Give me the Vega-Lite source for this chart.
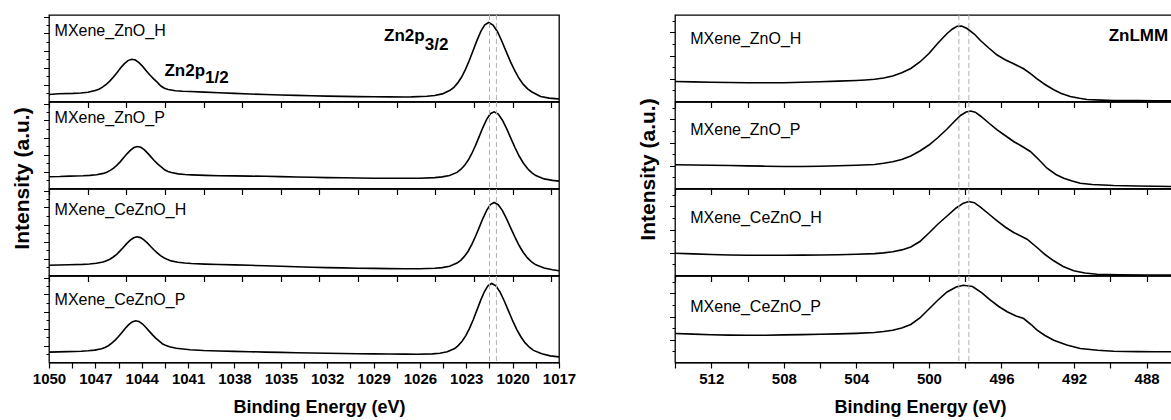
{
"$schema": "https://vega.github.io/schema/vega-lite/v6.json",
"padding": {"left": 10, "top": 13, "right": 0, "bottom": 2},
"background": "white",
"spacing": 59,
"config": {
  "view": {"stroke": "#000", "strokeWidth": 1.3},
  "font": "Liberation Sans",
  "axis": {"domain": false, "grid": false, "ticks": true, "tickCount": 100, "tickColor": "#000", "tickWidth": 1, "labelColor": "#000", "titleColor": "#000"}
},
"datasets": {
"refs": [{"r":"2p","e":1021.5},{"r":"2p","e":1021.05}],
"refs2": [{"k":498.35},{"k":497.8}],
"zn2p": [
{"s":"ZnO_H","e":1050,"y":7.0},{"s":"ZnO_H","e":1049.37,"y":7.7},{"s":"ZnO_H","e":1048.43,"y":8.1},{"s":"ZnO_H","e":1047.95,"y":8.5},{"s":"ZnO_H","e":1047.48,"y":9.3},{"s":"ZnO_H","e":1047.01,"y":11.0},{"s":"ZnO_H","e":1046.77,"y":12.3},{"s":"ZnO_H","e":1046.54,"y":14.4},{"s":"ZnO_H","e":1046.3,"y":17.0},{"s":"ZnO_H","e":1046.07,"y":20.4},{"s":"ZnO_H","e":1045.83,"y":24.5},{"s":"ZnO_H","e":1045.59,"y":29.0},{"s":"ZnO_H","e":1045.36,"y":33.7},{"s":"ZnO_H","e":1045.12,"y":37.9},{"s":"ZnO_H","e":1044.89,"y":40.9},{"s":"ZnO_H","e":1044.65,"y":42.2},{"s":"ZnO_H","e":1044.41,"y":41.5},{"s":"ZnO_H","e":1044.18,"y":38.9},{"s":"ZnO_H","e":1043.94,"y":35.1},{"s":"ZnO_H","e":1043.71,"y":30.8},{"s":"ZnO_H","e":1043.47,"y":26.5},{"s":"ZnO_H","e":1043.23,"y":22.6},{"s":"ZnO_H","e":1043.0,"y":19.4},{"s":"ZnO_H","e":1042.76,"y":15.5},{"s":"ZnO_H","e":1042.53,"y":13.3},{"s":"ZnO_H","e":1042.29,"y":12.0},{"s":"ZnO_H","e":1041.82,"y":10.8},{"s":"ZnO_H","e":1041.35,"y":10.3},{"s":"ZnO_H","e":1040.87,"y":10.0},{"s":"ZnO_H","e":1039.93,"y":9.4},{"s":"ZnO_H","e":1039,"y":8.8},{"s":"ZnO_H","e":1038,"y":8.1},{"s":"ZnO_H","e":1037,"y":7.5},{"s":"ZnO_H","e":1036,"y":7.0},{"s":"ZnO_H","e":1035,"y":6.5},{"s":"ZnO_H","e":1034,"y":6.1},{"s":"ZnO_H","e":1033,"y":5.7},{"s":"ZnO_H","e":1032,"y":5.4},{"s":"ZnO_H","e":1031,"y":5.1},{"s":"ZnO_H","e":1030,"y":4.9},{"s":"ZnO_H","e":1029,"y":4.7},{"s":"ZnO_H","e":1028,"y":4.6},{"s":"ZnO_H","e":1027,"y":4.5},{"s":"ZnO_H","e":1026.55,"y":4.6},{"s":"ZnO_H","e":1025.55,"y":5.3},{"s":"ZnO_H","e":1025.05,"y":6.0},{"s":"ZnO_H","e":1024.55,"y":7.6},{"s":"ZnO_H","e":1024.05,"y":11.2},{"s":"ZnO_H","e":1023.8,"y":14.2},{"s":"ZnO_H","e":1023.55,"y":18.6},{"s":"ZnO_H","e":1023.3,"y":24.5},{"s":"ZnO_H","e":1023.05,"y":32.2},{"s":"ZnO_H","e":1022.8,"y":41.2},{"s":"ZnO_H","e":1022.55,"y":51.2},{"s":"ZnO_H","e":1022.3,"y":61.4},{"s":"ZnO_H","e":1022.05,"y":70.4},{"s":"ZnO_H","e":1021.8,"y":76.7},{"s":"ZnO_H","e":1021.55,"y":79.0},{"s":"ZnO_H","e":1021.27,"y":76.5},{"s":"ZnO_H","e":1020.99,"y":70.0},{"s":"ZnO_H","e":1020.71,"y":60.8},{"s":"ZnO_H","e":1020.43,"y":50.4},{"s":"ZnO_H","e":1020.15,"y":40.2},{"s":"ZnO_H","e":1019.87,"y":31.0},{"s":"ZnO_H","e":1019.59,"y":23.2},{"s":"ZnO_H","e":1019.31,"y":17.1},{"s":"ZnO_H","e":1019.03,"y":12.6},{"s":"ZnO_H","e":1018.75,"y":9.5},{"s":"ZnO_H","e":1018.19,"y":5.0},{"s":"ZnO_H","e":1017.63,"y":3.4},{"s":"ZnO_H","e":1017.07,"y":2.6},{"s":"ZnO_H","e":1017,"y":2.5},
{"s":"ZnO_P","e":1050,"y":11.8},{"s":"ZnO_P","e":1049.3,"y":12.0},{"s":"ZnO_P","e":1048.68,"y":12.4},{"s":"ZnO_P","e":1047.8,"y":12.7},{"s":"ZnO_P","e":1047.36,"y":13.1},{"s":"ZnO_P","e":1046.92,"y":13.7},{"s":"ZnO_P","e":1046.48,"y":15.1},{"s":"ZnO_P","e":1046.26,"y":16.3},{"s":"ZnO_P","e":1046.04,"y":18.1},{"s":"ZnO_P","e":1045.82,"y":20.4},{"s":"ZnO_P","e":1045.6,"y":23.4},{"s":"ZnO_P","e":1045.38,"y":26.9},{"s":"ZnO_P","e":1045.16,"y":30.9},{"s":"ZnO_P","e":1044.94,"y":34.9},{"s":"ZnO_P","e":1044.72,"y":38.4},{"s":"ZnO_P","e":1044.5,"y":41.0},{"s":"ZnO_P","e":1044.28,"y":42.0},{"s":"ZnO_P","e":1044.06,"y":41.2},{"s":"ZnO_P","e":1043.84,"y":38.8},{"s":"ZnO_P","e":1043.62,"y":35.4},{"s":"ZnO_P","e":1043.4,"y":31.6},{"s":"ZnO_P","e":1043.18,"y":27.8},{"s":"ZnO_P","e":1042.96,"y":24.4},{"s":"ZnO_P","e":1042.74,"y":21.6},{"s":"ZnO_P","e":1042.52,"y":18.7},{"s":"ZnO_P","e":1042.3,"y":17.1},{"s":"ZnO_P","e":1042.08,"y":15.9},{"s":"ZnO_P","e":1041.64,"y":14.6},{"s":"ZnO_P","e":1041.2,"y":14.0},{"s":"ZnO_P","e":1040.76,"y":13.6},{"s":"ZnO_P","e":1039.88,"y":13.1},{"s":"ZnO_P","e":1039,"y":12.8},{"s":"ZnO_P","e":1038,"y":12.6},{"s":"ZnO_P","e":1037,"y":12.4},{"s":"ZnO_P","e":1036,"y":12.2},{"s":"ZnO_P","e":1035,"y":11.9},{"s":"ZnO_P","e":1034,"y":11.5},{"s":"ZnO_P","e":1033,"y":11.2},{"s":"ZnO_P","e":1032,"y":10.9},{"s":"ZnO_P","e":1031,"y":10.7},{"s":"ZnO_P","e":1030,"y":10.5},{"s":"ZnO_P","e":1029,"y":10.3},{"s":"ZnO_P","e":1028,"y":10.2},{"s":"ZnO_P","e":1027,"y":10.2},{"s":"ZnO_P","e":1026.0,"y":10.3},{"s":"ZnO_P","e":1025.04,"y":10.9},{"s":"ZnO_P","e":1024.56,"y":11.6},{"s":"ZnO_P","e":1024.08,"y":13.0},{"s":"ZnO_P","e":1023.6,"y":16.1},{"s":"ZnO_P","e":1023.36,"y":19.0},{"s":"ZnO_P","e":1023.12,"y":22.9},{"s":"ZnO_P","e":1022.88,"y":28.2},{"s":"ZnO_P","e":1022.64,"y":35.0},{"s":"ZnO_P","e":1022.4,"y":43.1},{"s":"ZnO_P","e":1022.16,"y":52.1},{"s":"ZnO_P","e":1021.92,"y":61.2},{"s":"ZnO_P","e":1021.68,"y":69.2},{"s":"ZnO_P","e":1021.44,"y":74.8},{"s":"ZnO_P","e":1021.2,"y":76.7},{"s":"ZnO_P","e":1020.93,"y":74.4},{"s":"ZnO_P","e":1020.66,"y":68.3},{"s":"ZnO_P","e":1020.39,"y":59.9},{"s":"ZnO_P","e":1020.12,"y":50.4},{"s":"ZnO_P","e":1019.85,"y":41.0},{"s":"ZnO_P","e":1019.58,"y":32.5},{"s":"ZnO_P","e":1019.31,"y":25.5},{"s":"ZnO_P","e":1019.04,"y":20.0},{"s":"ZnO_P","e":1018.77,"y":15.9},{"s":"ZnO_P","e":1018.5,"y":12.9},{"s":"ZnO_P","e":1017.96,"y":9.6},{"s":"ZnO_P","e":1017.42,"y":8.1},{"s":"ZnO_P","e":1017.0,"y":7.4},
{"s":"CeZnO_H","e":1050,"y":10.2},{"s":"CeZnO_H","e":1049.4,"y":10.5},{"s":"CeZnO_H","e":1048.7,"y":10.8},{"s":"CeZnO_H","e":1047.82,"y":11.1},{"s":"CeZnO_H","e":1047.38,"y":11.5},{"s":"CeZnO_H","e":1046.94,"y":12.2},{"s":"CeZnO_H","e":1046.5,"y":13.4},{"s":"CeZnO_H","e":1046.28,"y":14.7},{"s":"CeZnO_H","e":1046.06,"y":16.3},{"s":"CeZnO_H","e":1045.84,"y":18.5},{"s":"CeZnO_H","e":1045.62,"y":21.2},{"s":"CeZnO_H","e":1045.4,"y":24.6},{"s":"CeZnO_H","e":1045.18,"y":28.3},{"s":"CeZnO_H","e":1044.96,"y":32.1},{"s":"CeZnO_H","e":1044.74,"y":35.3},{"s":"CeZnO_H","e":1044.52,"y":37.7},{"s":"CeZnO_H","e":1044.3,"y":38.7},{"s":"CeZnO_H","e":1044.08,"y":37.9},{"s":"CeZnO_H","e":1043.86,"y":35.7},{"s":"CeZnO_H","e":1043.64,"y":32.6},{"s":"CeZnO_H","e":1043.42,"y":29.0},{"s":"CeZnO_H","e":1043.2,"y":25.5},{"s":"CeZnO_H","e":1042.98,"y":22.3},{"s":"CeZnO_H","e":1042.76,"y":19.7},{"s":"CeZnO_H","e":1042.54,"y":17.5},{"s":"CeZnO_H","e":1042.32,"y":15.9},{"s":"CeZnO_H","e":1042.1,"y":14.6},{"s":"CeZnO_H","e":1041.66,"y":13.2},{"s":"CeZnO_H","e":1041.22,"y":12.5},{"s":"CeZnO_H","e":1040.78,"y":12.0},{"s":"CeZnO_H","e":1039.9,"y":11.4},{"s":"CeZnO_H","e":1039,"y":11.0},{"s":"CeZnO_H","e":1038,"y":10.6},{"s":"CeZnO_H","e":1037,"y":10.2},{"s":"CeZnO_H","e":1036,"y":9.7},{"s":"CeZnO_H","e":1035,"y":9.2},{"s":"CeZnO_H","e":1034,"y":8.7},{"s":"CeZnO_H","e":1033,"y":8.3},{"s":"CeZnO_H","e":1032,"y":7.9},{"s":"CeZnO_H","e":1031,"y":7.6},{"s":"CeZnO_H","e":1030,"y":7.3},{"s":"CeZnO_H","e":1029,"y":7.1},{"s":"CeZnO_H","e":1028,"y":6.9},{"s":"CeZnO_H","e":1027,"y":6.8},{"s":"CeZnO_H","e":1026.0,"y":6.8},{"s":"CeZnO_H","e":1025.04,"y":7.2},{"s":"CeZnO_H","e":1024.56,"y":7.9},{"s":"CeZnO_H","e":1024.08,"y":9.3},{"s":"CeZnO_H","e":1023.6,"y":12.4},{"s":"CeZnO_H","e":1023.36,"y":15.2},{"s":"CeZnO_H","e":1023.12,"y":19.1},{"s":"CeZnO_H","e":1022.88,"y":24.3},{"s":"CeZnO_H","e":1022.64,"y":31.1},{"s":"CeZnO_H","e":1022.4,"y":39.2},{"s":"CeZnO_H","e":1022.16,"y":48.1},{"s":"CeZnO_H","e":1021.92,"y":57.2},{"s":"CeZnO_H","e":1021.68,"y":65.2},{"s":"CeZnO_H","e":1021.44,"y":71.0},{"s":"CeZnO_H","e":1021.2,"y":73.0},{"s":"CeZnO_H","e":1020.93,"y":70.8},{"s":"CeZnO_H","e":1020.66,"y":64.9},{"s":"CeZnO_H","e":1020.39,"y":56.7},{"s":"CeZnO_H","e":1020.12,"y":47.4},{"s":"CeZnO_H","e":1019.85,"y":38.3},{"s":"CeZnO_H","e":1019.58,"y":30.0},{"s":"CeZnO_H","e":1019.31,"y":23.0},{"s":"CeZnO_H","e":1019.04,"y":17.6},{"s":"CeZnO_H","e":1018.77,"y":13.5},{"s":"CeZnO_H","e":1018.5,"y":10.7},{"s":"CeZnO_H","e":1017.96,"y":7.4},{"s":"CeZnO_H","e":1017.42,"y":5.8},{"s":"CeZnO_H","e":1017.0,"y":4.8},
{"s":"CeZnO_P","e":1050,"y":10.4},{"s":"CeZnO_P","e":1049.4,"y":10.6},{"s":"CeZnO_P","e":1048.8,"y":10.9},{"s":"CeZnO_P","e":1047.92,"y":11.3},{"s":"CeZnO_P","e":1047.48,"y":11.7},{"s":"CeZnO_P","e":1047.04,"y":12.4},{"s":"CeZnO_P","e":1046.6,"y":13.8},{"s":"CeZnO_P","e":1046.38,"y":15.1},{"s":"CeZnO_P","e":1046.16,"y":16.8},{"s":"CeZnO_P","e":1045.94,"y":19.3},{"s":"CeZnO_P","e":1045.72,"y":22.4},{"s":"CeZnO_P","e":1045.5,"y":26.0},{"s":"CeZnO_P","e":1045.28,"y":30.0},{"s":"CeZnO_P","e":1045.06,"y":34.2},{"s":"CeZnO_P","e":1044.84,"y":37.9},{"s":"CeZnO_P","e":1044.62,"y":40.6},{"s":"CeZnO_P","e":1044.4,"y":41.7},{"s":"CeZnO_P","e":1044.18,"y":41.0},{"s":"CeZnO_P","e":1043.96,"y":38.7},{"s":"CeZnO_P","e":1043.74,"y":35.3},{"s":"CeZnO_P","e":1043.52,"y":31.4},{"s":"CeZnO_P","e":1043.3,"y":27.6},{"s":"CeZnO_P","e":1043.08,"y":24.2},{"s":"CeZnO_P","e":1042.86,"y":21.3},{"s":"CeZnO_P","e":1042.64,"y":18.5},{"s":"CeZnO_P","e":1042.42,"y":16.9},{"s":"CeZnO_P","e":1042.2,"y":15.7},{"s":"CeZnO_P","e":1041.76,"y":14.3},{"s":"CeZnO_P","e":1041.32,"y":13.5},{"s":"CeZnO_P","e":1040.88,"y":12.8},{"s":"CeZnO_P","e":1040.0,"y":12.0},{"s":"CeZnO_P","e":1039,"y":11.5},{"s":"CeZnO_P","e":1038,"y":11.1},{"s":"CeZnO_P","e":1037,"y":10.8},{"s":"CeZnO_P","e":1036,"y":10.4},{"s":"CeZnO_P","e":1035,"y":10.1},{"s":"CeZnO_P","e":1034,"y":9.8},{"s":"CeZnO_P","e":1033,"y":9.5},{"s":"CeZnO_P","e":1032,"y":9.2},{"s":"CeZnO_P","e":1031,"y":9.0},{"s":"CeZnO_P","e":1030,"y":8.8},{"s":"CeZnO_P","e":1029,"y":8.6},{"s":"CeZnO_P","e":1028,"y":8.5},{"s":"CeZnO_P","e":1027,"y":8.4},{"s":"CeZnO_P","e":1026.15,"y":8.3},{"s":"CeZnO_P","e":1025.19,"y":8.6},{"s":"CeZnO_P","e":1024.71,"y":9.2},{"s":"CeZnO_P","e":1024.23,"y":10.7},{"s":"CeZnO_P","e":1023.75,"y":14.0},{"s":"CeZnO_P","e":1023.51,"y":17.1},{"s":"CeZnO_P","e":1023.27,"y":21.2},{"s":"CeZnO_P","e":1023.03,"y":26.9},{"s":"CeZnO_P","e":1022.79,"y":34.1},{"s":"CeZnO_P","e":1022.55,"y":42.8},{"s":"CeZnO_P","e":1022.31,"y":52.4},{"s":"CeZnO_P","e":1022.07,"y":62.1},{"s":"CeZnO_P","e":1021.83,"y":70.7},{"s":"CeZnO_P","e":1021.59,"y":76.8},{"s":"CeZnO_P","e":1021.35,"y":79.0},{"s":"CeZnO_P","e":1021.08,"y":76.6},{"s":"CeZnO_P","e":1020.81,"y":70.3},{"s":"CeZnO_P","e":1020.54,"y":61.5},{"s":"CeZnO_P","e":1020.27,"y":51.6},{"s":"CeZnO_P","e":1020.0,"y":41.8},{"s":"CeZnO_P","e":1019.73,"y":32.9},{"s":"CeZnO_P","e":1019.46,"y":25.5},{"s":"CeZnO_P","e":1019.19,"y":19.6},{"s":"CeZnO_P","e":1018.92,"y":15.3},{"s":"CeZnO_P","e":1018.65,"y":12.1},{"s":"CeZnO_P","e":1018.11,"y":8.7},{"s":"CeZnO_P","e":1017.57,"y":6.6},{"s":"CeZnO_P","e":1017.0,"y":5.6}
],
"lmm": [
{"s":"ZnO_H","k":514,"y":20.0},{"s":"ZnO_H","k":513,"y":19.6},{"s":"ZnO_H","k":512,"y":19.3},{"s":"ZnO_H","k":511,"y":19.0},{"s":"ZnO_H","k":510,"y":18.8},{"s":"ZnO_H","k":509,"y":18.7},{"s":"ZnO_H","k":508,"y":18.8},{"s":"ZnO_H","k":507,"y":19.2},{"s":"ZnO_H","k":506,"y":19.8},{"s":"ZnO_H","k":505,"y":20.4},{"s":"ZnO_H","k":504,"y":21.0},{"s":"ZnO_H","k":503.5,"y":21.5},{"s":"ZnO_H","k":503,"y":22.2},{"s":"ZnO_H","k":502.5,"y":23.5},{"s":"ZnO_H","k":502,"y":25.5},{"s":"ZnO_H","k":501.5,"y":28.8},{"s":"ZnO_H","k":501,"y":33.0},{"s":"ZnO_H","k":500.5,"y":39.5},{"s":"ZnO_H","k":500,"y":48.0},{"s":"ZnO_H","k":499.5,"y":58.5},{"s":"ZnO_H","k":499,"y":68.0},{"s":"ZnO_H","k":498.7,"y":72.5},{"s":"ZnO_H","k":498.45,"y":75.3},{"s":"ZnO_H","k":498.2,"y":75.5},{"s":"ZnO_H","k":497.9,"y":73.0},{"s":"ZnO_H","k":497.5,"y":67.5},{"s":"ZnO_H","k":497.16,"y":61.0},{"s":"ZnO_H","k":496.7,"y":53.5},{"s":"ZnO_H","k":496.24,"y":46.5},{"s":"ZnO_H","k":495.8,"y":41.8},{"s":"ZnO_H","k":495.33,"y":37.7},{"s":"ZnO_H","k":494.78,"y":32.7},{"s":"ZnO_H","k":494.4,"y":27.8},{"s":"ZnO_H","k":494.04,"y":22.7},{"s":"ZnO_H","k":493.6,"y":17.0},{"s":"ZnO_H","k":493.12,"y":11.7},{"s":"ZnO_H","k":492.7,"y":8.0},{"s":"ZnO_H","k":492.21,"y":5.0},{"s":"ZnO_H","k":491.7,"y":3.2},{"s":"ZnO_H","k":491.29,"y":2.0},{"s":"ZnO_H","k":490.5,"y":1.4},{"s":"ZnO_H","k":489.8,"y":1.0},{"s":"ZnO_H","k":488.5,"y":0.9},{"s":"ZnO_H","k":487.5,"y":0.8},{"s":"ZnO_H","k":486.6,"y":0.8},
{"s":"ZnO_P","k":514,"y":23.7},{"s":"ZnO_P","k":513,"y":23.5},{"s":"ZnO_P","k":512,"y":23.2},{"s":"ZnO_P","k":511,"y":23.0},{"s":"ZnO_P","k":510,"y":22.6},{"s":"ZnO_P","k":509,"y":22.3},{"s":"ZnO_P","k":508,"y":22.0},{"s":"ZnO_P","k":507,"y":22.0},{"s":"ZnO_P","k":506,"y":22.3},{"s":"ZnO_P","k":505,"y":22.8},{"s":"ZnO_P","k":504,"y":23.3},{"s":"ZnO_P","k":503,"y":24.0},{"s":"ZnO_P","k":502.5,"y":25.2},{"s":"ZnO_P","k":502,"y":26.8},{"s":"ZnO_P","k":501.5,"y":29.0},{"s":"ZnO_P","k":501,"y":32.5},{"s":"ZnO_P","k":500.5,"y":37.5},{"s":"ZnO_P","k":500,"y":43.5},{"s":"ZnO_P","k":499.5,"y":51.0},{"s":"ZnO_P","k":499,"y":59.5},{"s":"ZnO_P","k":498.6,"y":67.0},{"s":"ZnO_P","k":498.26,"y":73.0},{"s":"ZnO_P","k":497.95,"y":76.5},{"s":"ZnO_P","k":497.7,"y":77.5},{"s":"ZnO_P","k":497.45,"y":76.3},{"s":"ZnO_P","k":497.16,"y":72.5},{"s":"ZnO_P","k":496.7,"y":65.5},{"s":"ZnO_P","k":496.24,"y":58.7},{"s":"ZnO_P","k":495.8,"y":53.0},{"s":"ZnO_P","k":495.33,"y":47.0},{"s":"ZnO_P","k":494.9,"y":42.5},{"s":"ZnO_P","k":494.41,"y":37.0},{"s":"ZnO_P","k":493.95,"y":29.0},{"s":"ZnO_P","k":493.49,"y":20.3},{"s":"ZnO_P","k":493.0,"y":14.0},{"s":"ZnO_P","k":492.57,"y":10.3},{"s":"ZnO_P","k":492.1,"y":7.5},{"s":"ZnO_P","k":491.66,"y":5.3},{"s":"ZnO_P","k":491.0,"y":4.0},{"s":"ZnO_P","k":489.82,"y":3.0},{"s":"ZnO_P","k":488.5,"y":2.5},{"s":"ZnO_P","k":487.5,"y":2.2},{"s":"ZnO_P","k":486.6,"y":2.0},
{"s":"CeZnO_H","k":514,"y":22.3},{"s":"CeZnO_H","k":513,"y":21.6},{"s":"CeZnO_H","k":512,"y":21.0},{"s":"CeZnO_H","k":511,"y":20.5},{"s":"CeZnO_H","k":510,"y":20.3},{"s":"CeZnO_H","k":509,"y":20.2},{"s":"CeZnO_H","k":508,"y":20.3},{"s":"CeZnO_H","k":507,"y":20.4},{"s":"CeZnO_H","k":506,"y":20.5},{"s":"CeZnO_H","k":505,"y":20.7},{"s":"CeZnO_H","k":504,"y":21.2},{"s":"CeZnO_H","k":503,"y":21.9},{"s":"CeZnO_H","k":502.5,"y":22.6},{"s":"CeZnO_H","k":502,"y":23.8},{"s":"CeZnO_H","k":501.5,"y":25.6},{"s":"CeZnO_H","k":501,"y":28.5},{"s":"CeZnO_H","k":500.5,"y":34.0},{"s":"CeZnO_H","k":500,"y":42.5},{"s":"CeZnO_H","k":499.5,"y":51.5},{"s":"CeZnO_H","k":499,"y":59.5},{"s":"CeZnO_H","k":498.5,"y":67.5},{"s":"CeZnO_H","k":498.1,"y":72.3},{"s":"CeZnO_H","k":497.8,"y":74.0},{"s":"CeZnO_H","k":497.5,"y":72.8},{"s":"CeZnO_H","k":497.16,"y":68.3},{"s":"CeZnO_H","k":496.7,"y":61.5},{"s":"CeZnO_H","k":496.24,"y":54.7},{"s":"CeZnO_H","k":495.8,"y":48.5},{"s":"CeZnO_H","k":495.33,"y":43.0},{"s":"CeZnO_H","k":494.59,"y":36.3},{"s":"CeZnO_H","k":494.04,"y":28.0},{"s":"CeZnO_H","k":493.6,"y":21.0},{"s":"CeZnO_H","k":493.12,"y":14.7},{"s":"CeZnO_H","k":492.6,"y":9.0},{"s":"CeZnO_H","k":492.02,"y":4.7},{"s":"CeZnO_H","k":491.4,"y":2.5},{"s":"CeZnO_H","k":490.74,"y":1.3},{"s":"CeZnO_H","k":489.5,"y":0.8},{"s":"CeZnO_H","k":488,"y":0.5},{"s":"CeZnO_H","k":486.6,"y":0.5},
{"s":"CeZnO_P","k":514,"y":29.0},{"s":"CeZnO_P","k":513,"y":28.4},{"s":"CeZnO_P","k":512,"y":27.8},{"s":"CeZnO_P","k":511,"y":27.4},{"s":"CeZnO_P","k":510,"y":27.2},{"s":"CeZnO_P","k":509,"y":27.3},{"s":"CeZnO_P","k":508,"y":27.6},{"s":"CeZnO_P","k":507,"y":27.9},{"s":"CeZnO_P","k":506,"y":28.2},{"s":"CeZnO_P","k":505,"y":28.6},{"s":"CeZnO_P","k":504,"y":29.1},{"s":"CeZnO_P","k":503,"y":30.0},{"s":"CeZnO_P","k":502.5,"y":31.0},{"s":"CeZnO_P","k":502,"y":32.3},{"s":"CeZnO_P","k":501.5,"y":34.5},{"s":"CeZnO_P","k":501,"y":38.0},{"s":"CeZnO_P","k":500.5,"y":44.5},{"s":"CeZnO_P","k":500,"y":53.5},{"s":"CeZnO_P","k":499.5,"y":62.5},{"s":"CeZnO_P","k":499,"y":70.5},{"s":"CeZnO_P","k":498.5,"y":75.5},{"s":"CeZnO_P","k":498.1,"y":77.3},{"s":"CeZnO_P","k":497.6,"y":76.0},{"s":"CeZnO_P","k":497.1,"y":69.8},{"s":"CeZnO_P","k":496.61,"y":62.3},{"s":"CeZnO_P","k":496.15,"y":56.0},{"s":"CeZnO_P","k":495.69,"y":50.7},{"s":"CeZnO_P","k":495.2,"y":46.5},{"s":"CeZnO_P","k":494.78,"y":44.0},{"s":"CeZnO_P","k":494.4,"y":38.5},{"s":"CeZnO_P","k":494.04,"y":32.3},{"s":"CeZnO_P","k":493.6,"y":27.0},{"s":"CeZnO_P","k":493.12,"y":22.3},{"s":"CeZnO_P","k":492.4,"y":17.5},{"s":"CeZnO_P","k":491.66,"y":14.0},{"s":"CeZnO_P","k":490.7,"y":12.3},{"s":"CeZnO_P","k":489.82,"y":11.3},{"s":"CeZnO_P","k":488.5,"y":10.9},{"s":"CeZnO_P","k":487.5,"y":10.8},{"s":"CeZnO_P","k":486.6,"y":10.7}
]
},
"hconcat": [
{"spacing": 0, "bounds": "flush", "vconcat": [
 {"width": 510, "height": 86.5, "layer": [
  {"data": {"name": "zn2p"}, "transform": [{"filter": "datum.s === 'ZnO_H'"}], "mark": {"type": "line", "color": "#000", "strokeWidth": 1.6, "clip": true}, "encoding": {
    "x": {"field": "e", "type": "quantitative", "scale": {"domain": [1050, 1017], "nice": false, "zero": false}, "axis": {"values": [1050,1047.5,1045,1042.5,1040,1037.5,1035,1032.5,1030,1027.5,1025,1022.5,1020,1017.5], "labels": false, "title": null, "ticks": true, "tickSize": 6, "tickWidth": 1.2, "tickColor": "#000", "domain": true, "domainColor": "#000", "domainWidth": 1, "zindex": 1}},
    "y": {"field": "y", "type": "quantitative", "scale": {"domain": [0, 86.5], "nice": false, "zero": false}, "axis": {"values": [8.5,17,25.5,34,42.5,51,59.5,68,76.5,85], "labels": false, "title": null, "tickSize": 5.5, "tickDash": {"condition": {"test": "datum.value % 17 === 0", "value": [5.5, 0]}, "value": [3, 30]}}}}},
  {"data": {"name": "refs"}, "mark": {"type": "rule", "color": "#b0b0b0", "strokeDash": [5, 3], "strokeWidth": 1}, "encoding": {"x": {"field": "e", "type": "quantitative"}}},
  {"data": {"values": [{"t": "MXene_ZnO_H"}]}, "mark": {"type": "text", "align": "left", "baseline": "alphabetic", "fontSize": 16, "color": "#000"}, "encoding": {"x": {"datum": 1049.64}, "y": {"datum": 66}, "text": {"field": "t"}}},
  {"data": {"values": [{"t": "Zn2p"}]}, "mark": {"type": "text", "align": "right", "baseline": "alphabetic", "fontSize": 17, "fontWeight": "bold", "color": "#000"}, "encoding": {"x": {"datum": 1039.9}, "y": {"datum": 26}, "text": {"field": "t"}}},
  {"data": {"values": [{"t": "1/2"}]}, "mark": {"type": "text", "align": "left", "baseline": "alphabetic", "fontSize": 17, "fontWeight": "bold", "color": "#000"}, "encoding": {"x": {"datum": 1039.9}, "y": {"datum": 19}, "text": {"field": "t"}}},
  {"data": {"values": [{"t": "Zn2p"}]}, "mark": {"type": "text", "align": "right", "baseline": "alphabetic", "fontSize": 17, "fontWeight": "bold", "color": "#000"}, "encoding": {"x": {"datum": 1025.69}, "y": {"datum": 61}, "text": {"field": "t"}}},
  {"data": {"values": [{"t": "3/2"}]}, "mark": {"type": "text", "align": "left", "baseline": "alphabetic", "fontSize": 17, "fontWeight": "bold", "color": "#000"}, "encoding": {"x": {"datum": 1025.69}, "y": {"datum": 52}, "text": {"field": "t"}}}
 ]},
 {"width": 510, "height": 86.5, "layer": [
  {"data": {"name": "zn2p"}, "transform": [{"filter": "datum.s === 'ZnO_P'"}], "mark": {"type": "line", "color": "#000", "strokeWidth": 1.6, "clip": true}, "encoding": {
    "x": {"field": "e", "type": "quantitative", "scale": {"domain": [1050, 1017], "nice": false, "zero": false}, "axis": {"values": [1050,1047.5,1045,1042.5,1040,1037.5,1035,1032.5,1030,1027.5,1025,1022.5,1020,1017.5], "labels": false, "title": null, "ticks": true, "tickSize": 6, "tickWidth": 1.2, "tickColor": "#000", "domain": true, "domainColor": "#000", "domainWidth": 1, "zindex": 1}},
    "y": {"field": "y", "type": "quantitative", "scale": {"domain": [0, 86.5], "nice": false, "zero": false}, "axis": {"values": [8.5,17,25.5,34,42.5,51,59.5,68,76.5,85], "labels": false, "title": "Intensity (a.u.)", "titleX": -38, "titleY": 76, "titleAngle": -90, "titleBaseline": "top", "titleAlign": "center", "titleFontSize": 21, "titleFontWeight": "bold", "tickSize": 5.5, "tickDash": {"condition": {"test": "datum.value % 17 === 0", "value": [5.5, 0]}, "value": [3, 30]}}}}},
  {"data": {"name": "refs"}, "mark": {"type": "rule", "color": "#b0b0b0", "strokeDash": [5, 3], "strokeWidth": 1}, "encoding": {"x": {"field": "e", "type": "quantitative"}}},
  {"data": {"values": [{"t": "MXene_ZnO_P"}]}, "mark": {"type": "text", "align": "left", "baseline": "alphabetic", "fontSize": 16, "color": "#000"}, "encoding": {"x": {"datum": 1049.64}, "y": {"datum": 66}, "text": {"field": "t"}}}
 ]},
 {"width": 510, "height": 86.5, "layer": [
  {"data": {"name": "zn2p"}, "transform": [{"filter": "datum.s === 'CeZnO_H'"}], "mark": {"type": "line", "color": "#000", "strokeWidth": 1.6, "clip": true}, "encoding": {
    "x": {"field": "e", "type": "quantitative", "scale": {"domain": [1050, 1017], "nice": false, "zero": false}, "axis": {"values": [1050,1047.5,1045,1042.5,1040,1037.5,1035,1032.5,1030,1027.5,1025,1022.5,1020,1017.5], "labels": false, "title": null, "ticks": true, "tickSize": 6, "tickWidth": 1.2, "tickColor": "#000", "domain": true, "domainColor": "#000", "domainWidth": 1, "zindex": 1}},
    "y": {"field": "y", "type": "quantitative", "scale": {"domain": [0, 86.5], "nice": false, "zero": false}, "axis": {"values": [8.5,17,25.5,34,42.5,51,59.5,68,76.5,85], "labels": false, "title": null, "tickSize": 5.5, "tickDash": {"condition": {"test": "datum.value % 17 === 0", "value": [5.5, 0]}, "value": [3, 30]}}}}},
  {"data": {"name": "refs"}, "mark": {"type": "rule", "color": "#b0b0b0", "strokeDash": [5, 3], "strokeWidth": 1}, "encoding": {"x": {"field": "e", "type": "quantitative"}}},
  {"data": {"values": [{"t": "MXene_CeZnO_H"}]}, "mark": {"type": "text", "align": "left", "baseline": "alphabetic", "fontSize": 16, "color": "#000"}, "encoding": {"x": {"datum": 1049.64}, "y": {"datum": 61}, "text": {"field": "t"}}}
 ]},
 {"width": 510, "height": 86.5, "layer": [
  {"data": {"name": "zn2p"}, "transform": [{"filter": "datum.s === 'CeZnO_P'"}], "mark": {"type": "line", "color": "#000", "strokeWidth": 1.6, "clip": true}, "encoding": {
    "x": {"field": "e", "type": "quantitative", "scale": {"domain": [1050, 1017], "nice": false, "zero": false}, "axis": {"values": [1050,1048.5,1047,1045.5,1044,1042.5,1041,1039.5,1038,1036.5,1035,1033.5,1032,1030.5,1029,1027.5,1026,1024.5,1023,1021.5,1020,1018.5,1017], "labelExpr": "datum.value % 3 === 0 ? format(datum.value, 'd') : ''", "labelFlush": false, "labelOverlap": false, "labelFontWeight": "bold", "labelFontSize": 15, "labelPadding": 3, "ticks": true, "tickSize": 5.5, "tickWidth": 1.2, "tickColor": "#000", "domain": true, "domainColor": "#000", "domainWidth": 1, "zindex": 1, "title": "Binding Energy (eV)", "titleFontSize": 18, "titleFontWeight": "bold", "titlePadding": 12, "titleX": 270}},
    "y": {"field": "y", "type": "quantitative", "scale": {"domain": [0, 86.5], "nice": false, "zero": false}, "axis": {"values": [8.5,17,25.5,34,42.5,51,59.5,68,76.5,85], "labels": false, "title": null, "tickSize": 5.5, "tickDash": {"condition": {"test": "datum.value % 17 === 0", "value": [5.5, 0]}, "value": [3, 30]}}}}},
  {"data": {"name": "refs"}, "mark": {"type": "rule", "color": "#b0b0b0", "strokeDash": [5, 3], "strokeWidth": 1}, "encoding": {"x": {"field": "e", "type": "quantitative"}}},
  {"data": {"values": [{"t": "MXene_CeZnO_P"}]}, "mark": {"type": "text", "align": "left", "baseline": "alphabetic", "fontSize": 16, "color": "#000"}, "encoding": {"x": {"datum": 1049.64}, "y": {"datum": 58}, "text": {"field": "t"}}}
 ]}
]},
{"spacing": 0, "bounds": "flush", "vconcat": [
 {"width": 497, "height": 86.5, "layer": [
  {"data": {"name": "lmm"}, "transform": [{"filter": "datum.s === 'ZnO_H'"}], "mark": {"type": "line", "color": "#000", "strokeWidth": 1.6, "clip": true}, "encoding": {
    "x": {"field": "k", "type": "quantitative", "scale": {"domain": [486.6, 514], "reverse": true, "nice": false, "zero": false}, "axis": {"values": [514,512,510,508,506,504,502,500,498,496,494,492,490,488], "labels": false, "title": null, "ticks": true, "tickSize": 6, "tickWidth": 1.2, "tickColor": "#000", "domain": true, "domainColor": "#000", "domainWidth": 1, "zindex": 1}},
    "y": {"field": "y", "type": "quantitative", "scale": {"domain": [0, 86.5], "nice": false, "zero": false}, "axis": {"values": [11.5,23,34.5,46,57.5,69,80.5], "labels": false, "title": null, "tickSize": 5.5, "tickDash": {"condition": {"test": "datum.value % 23 === 0", "value": [5.5, 0]}, "value": [3, 30]}}}}},
  {"data": {"name": "refs2"}, "mark": {"type": "rule", "color": "#b0b0b0", "strokeDash": [5, 3], "strokeWidth": 1}, "encoding": {"x": {"field": "k", "type": "quantitative"}}},
  {"data": {"values": [{"t": "MXene_ZnO_H"}]}, "mark": {"type": "text", "align": "left", "baseline": "alphabetic", "fontSize": 16, "color": "#000"}, "encoding": {"x": {"datum": 513.16}, "y": {"datum": 58}, "text": {"field": "t"}}},
  {"data": {"values": [{"t": "ZnLMM"}]}, "mark": {"type": "text", "align": "right", "baseline": "alphabetic", "fontSize": 17, "fontWeight": "bold", "color": "#000"}, "encoding": {"x": {"datum": 486.81}, "y": {"datum": 61}, "text": {"field": "t"}}}
 ]},
 {"width": 497, "height": 86.5, "layer": [
  {"data": {"name": "lmm"}, "transform": [{"filter": "datum.s === 'ZnO_P'"}], "mark": {"type": "line", "color": "#000", "strokeWidth": 1.6, "clip": true}, "encoding": {
    "x": {"field": "k", "type": "quantitative", "scale": {"domain": [486.6, 514], "reverse": true, "nice": false, "zero": false}, "axis": {"values": [514,512,510,508,506,504,502,500,498,496,494,492,490,488], "labels": false, "title": null, "ticks": true, "tickSize": 6, "tickWidth": 1.2, "tickColor": "#000", "domain": true, "domainColor": "#000", "domainWidth": 1, "zindex": 1}},
    "y": {"field": "y", "type": "quantitative", "scale": {"domain": [0, 86.5], "nice": false, "zero": false}, "axis": {"values": [11.5,23,34.5,46,57.5,69,80.5], "labels": false, "title": "Intensity (a.u.)", "titleX": -38, "titleY": 67, "titleAngle": -90, "titleBaseline": "top", "titleAlign": "center", "titleFontSize": 21, "titleFontWeight": "bold", "tickSize": 5.5, "tickDash": {"condition": {"test": "datum.value % 23 === 0", "value": [5.5, 0]}, "value": [3, 30]}}}}},
  {"data": {"name": "refs2"}, "mark": {"type": "rule", "color": "#b0b0b0", "strokeDash": [5, 3], "strokeWidth": 1}, "encoding": {"x": {"field": "k", "type": "quantitative"}}},
  {"data": {"values": [{"t": "MXene_ZnO_P"}]}, "mark": {"type": "text", "align": "left", "baseline": "alphabetic", "fontSize": 16, "color": "#000"}, "encoding": {"x": {"datum": 513.16}, "y": {"datum": 54}, "text": {"field": "t"}}}
 ]},
 {"width": 497, "height": 86.5, "layer": [
  {"data": {"name": "lmm"}, "transform": [{"filter": "datum.s === 'CeZnO_H'"}], "mark": {"type": "line", "color": "#000", "strokeWidth": 1.6, "clip": true}, "encoding": {
    "x": {"field": "k", "type": "quantitative", "scale": {"domain": [486.6, 514], "reverse": true, "nice": false, "zero": false}, "axis": {"values": [514,512,510,508,506,504,502,500,498,496,494,492,490,488], "labels": false, "title": null, "ticks": true, "tickSize": 6, "tickWidth": 1.2, "tickColor": "#000", "domain": true, "domainColor": "#000", "domainWidth": 1, "zindex": 1}},
    "y": {"field": "y", "type": "quantitative", "scale": {"domain": [0, 86.5], "nice": false, "zero": false}, "axis": {"values": [11.5,23,34.5,46,57.5,69,80.5], "labels": false, "title": null, "tickSize": 5.5, "tickDash": {"condition": {"test": "datum.value % 23 === 0", "value": [5.5, 0]}, "value": [3, 30]}}}}},
  {"data": {"name": "refs2"}, "mark": {"type": "rule", "color": "#b0b0b0", "strokeDash": [5, 3], "strokeWidth": 1}, "encoding": {"x": {"field": "k", "type": "quantitative"}}},
  {"data": {"values": [{"t": "MXene_CeZnO_H"}]}, "mark": {"type": "text", "align": "left", "baseline": "alphabetic", "fontSize": 16, "color": "#000"}, "encoding": {"x": {"datum": 513.16}, "y": {"datum": 53}, "text": {"field": "t"}}}
 ]},
 {"width": 497, "height": 86.5, "layer": [
  {"data": {"name": "lmm"}, "transform": [{"filter": "datum.s === 'CeZnO_P'"}], "mark": {"type": "line", "color": "#000", "strokeWidth": 1.6, "clip": true}, "encoding": {
    "x": {"field": "k", "type": "quantitative", "scale": {"domain": [486.6, 514], "reverse": true, "nice": false, "zero": false}, "axis": {"values": [514,512,510,508,506,504,502,500,498,496,494,492,490,488], "labelExpr": "datum.value % 4 === 0 ? format(datum.value, 'd') : ''", "labelFlush": false, "labelOverlap": false, "labelFontWeight": "bold", "labelFontSize": 15, "labelPadding": 3, "ticks": true, "tickSize": 5.5, "tickWidth": 1.2, "tickColor": "#000", "domain": true, "domainColor": "#000", "domainWidth": 1, "zindex": 1, "title": "Binding Energy (eV)", "titleFontSize": 18, "titleFontWeight": "bold", "titlePadding": 12, "titleX": 245}},
    "y": {"field": "y", "type": "quantitative", "scale": {"domain": [0, 86.5], "nice": false, "zero": false}, "axis": {"values": [11.5,23,34.5,46,57.5,69,80.5], "labels": false, "title": null, "tickSize": 5.5, "tickDash": {"condition": {"test": "datum.value % 23 === 0", "value": [5.5, 0]}, "value": [3, 30]}}}}},
  {"data": {"name": "refs2"}, "mark": {"type": "rule", "color": "#b0b0b0", "strokeDash": [5, 3], "strokeWidth": 1}, "encoding": {"x": {"field": "k", "type": "quantitative"}}},
  {"data": {"values": [{"t": "MXene_CeZnO_P"}]}, "mark": {"type": "text", "align": "left", "baseline": "alphabetic", "fontSize": 16, "color": "#000"}, "encoding": {"x": {"datum": 513.16}, "y": {"datum": 51}, "text": {"field": "t"}}}
 ]}
]}
]
}
